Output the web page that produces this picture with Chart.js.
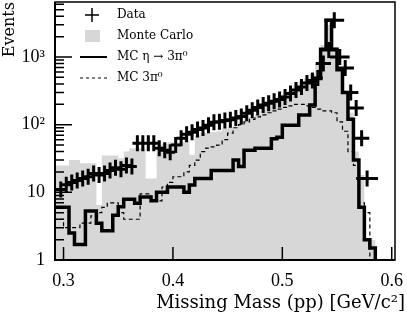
<!DOCTYPE html>
<html>
<head>
<meta charset="utf-8">
<script src="https://cdn.jsdelivr.net/npm/chart.js@4.4.1/dist/chart.umd.min.js"></script>
<style>
  html, body { margin: 0; padding: 0; background: #fff; }
  #wrap { width: 407px; height: 317px; }
</style>
</head>
<body>
<div id="wrap"><canvas id="chart" width="407" height="317"></canvas></div>
<script>
// bin edges of the missing mass histograms (GeV/c^2)
const binEdges = [
  0.290, 0.295, 0.300, 0.305, 0.310, 0.315, 0.320, 0.325, 0.330, 0.335,
  0.340, 0.345, 0.350, 0.355, 0.360, 0.365, 0.370, 0.375, 0.380, 0.385,
  0.390, 0.395, 0.400, 0.405, 0.410, 0.415, 0.420, 0.425, 0.430, 0.435,
  0.440, 0.445, 0.450, 0.455, 0.460, 0.465, 0.470, 0.475, 0.480, 0.485,
  0.490, 0.495, 0.500, 0.505, 0.510, 0.515, 0.520, 0.525, 0.530, 0.535,
  0.540, 0.545, 0.550, 0.555, 0.560, 0.565, 0.570, 0.575, 0.580, 0.585,
  0.590, 0.595, 0.600
];

// Monte Carlo total (grey)
const mcTotal = [
  25, 25, 25, 25, 30, 30, 27, 27, 27, 6.5,
  35, 35, 35, 32, 40, 45, 45, 45, 16, 16,
  50, 52, 55, 55, 55, 58, 36, 70, 75, 75,
  78, 80, 88, 92, 95, 110, 125, 130, 140, 180,
  210, 230, 260, 290, 320, 380, 430, 480, 560, 800,
  1500, 3000, 1400, 700, 320, 150, 40, 18, 2, 2,
  0, 0
];

// MC eta -> 3pi0 (thick solid)
const mcEta = [
  6, 6, 6, 6, 2.5, 1.7, 1.7, 5.3, 5.3, 3.5,
  2.7, 2.7, 4.6, 6.1, 7.9, 7.9, 6.9, 8.5, 8.5, 7.5,
  10, 10, 12, 12, 12, 10, 12.8, 16, 16, 16,
  21, 21, 21, 21, 30, 24, 42, 42, 45, 45,
  45, 62, 65, 98, 98, 98, 139, 139, 195, 480,
  1300, 3500, 1300, 650, 300, 120, 30, 6, 2, 1.5,
  0, 0
];

// MC direct 3pi0 (dashed)
const mc3pi = [
  4, 4, 4, 3, 3, 3, 3.5, 3.5, 4.5, 5,
  6, 7, 7, 5, 4, 4, 4, 9.5, 9.5, 7.5,
  7.5, 12, 14, 17, 17, 20, 25, 30, 40, 45,
  47, 50, 60, 75, 90, 100, 110, 120, 130, 140,
  150, 160, 170, 180, 190, 200, 200, 190, 180, 170,
  160, 160, 150, 110, 80, 40, 25, 7, 5, 0,
  0, 0
];

// data counts per bin (null = no point)
const dataCounts = [
  null, 11, 13, 14, 15, 16, 17, 19, 18, 19,
  21, 23, 22, 25, 24, 53, 53, 53, 53, 45,
  42, 39, 50, 63, 72, 77, 85, 89, 98, 109,
  110, 115, 118, 125, 132, 148, 164, 180, 195, 208,
  222, 235, 256, 290, 325, 360, 412, 450, 488, 800,
  1265, 3500, 1000, 690, 300, 176, 63, 16, null, null,
  null, null
];

// horizontal half-extent of each data cross (GeV/c^2)
const dataXErr = [
  0.0045, 0.0045, 0.0045, 0.0045, 0.0045, 0.0045, 0.0045, 0.0045, 0.0045, 0.0045,
  0.0045, 0.0045, 0.0045, 0.0045, 0.0045, 0.0045, 0.0045, 0.0045, 0.0045, 0.0045,
  0.0045, 0.0045, 0.0045, 0.0045, 0.0045, 0.0045, 0.0045, 0.0045, 0.0045, 0.0045,
  0.0045, 0.0045, 0.0045, 0.0045, 0.0045, 0.0045, 0.0045, 0.0045, 0.0045, 0.0045,
  0.0045, 0.0045, 0.0045, 0.0045, 0.0045, 0.0045, 0.0045, 0.0045, 0.0045, 0.007,
  0.007, 0.009, 0.009, 0.008, 0.007, 0.007, 0.007, 0.01, 0.0045, 0.0045,
  0.0045, 0.0045
];

const xTicks = [0.3, 0.4, 0.5, 0.6];
const yTickLabels = { 1: '1', 10: '10', 100: '10²', 1000: '10³' };
const legendLabels = ['Data', 'Monte Carlo', 'MC η → 3π⁰', 'MC 3π⁰'];
const xTitle = 'Missing Mass (pp) [GeV/c²]';
const yTitle = 'Events';

const GREY = '#d7d7d7';
const SERIF = '"Liberation Serif", "DejaVu Serif", serif';

function stepPoints(vals) {
  // zero bins go below the axis and get clipped
  const pts = vals.map((v, i) => ({ x: binEdges[i], y: v > 0 ? v : 0.3 }));
  pts.push({ x: binEdges[vals.length], y: 0.3 });
  return pts;
}

const dataPoints = [];
dataCounts.forEach((v, i) => {
  if (v == null) return;
  dataPoints.push({ x: (binEdges[i] + binEdges[i + 1]) / 2, y: v, xerr: dataXErr[i] });
});

const decor = {
  id: 'decor',
  afterDatasetsDraw(chart) {
    const { ctx, chartArea: a, scales: { x, y } } = chart;
    ctx.save();
    // data crosses
    ctx.strokeStyle = '#000';
    ctx.lineWidth = 3;
    ctx.beginPath();
    for (const p of dataPoints) {
      const px = x.getPixelForValue(p.x), py = y.getPixelForValue(p.y);
      const x0 = x.getPixelForValue(p.x - p.xerr), x1 = x.getPixelForValue(p.x + p.xerr);
      ctx.moveTo(x0, py); ctx.lineTo(x1, py);
      ctx.moveTo(px, py - 8); ctx.lineTo(px, py + 8);
    }
    ctx.stroke();

    // frame
    ctx.lineWidth = 1.5;
    ctx.strokeRect(a.left, a.top, a.right - a.left, a.bottom - a.top);
    ctx.lineWidth = 2;
    ctx.beginPath();
    ctx.moveTo(a.left, a.top); ctx.lineTo(a.left, a.bottom); ctx.lineTo(a.right, a.bottom);
    ctx.stroke();

    // inward tick marks
    ctx.lineWidth = 1.5;
    ctx.beginPath();
    for (const t of xTicks) {
      const px = x.getPixelForValue(t);
      ctx.moveTo(px, a.bottom); ctx.lineTo(px, a.bottom - 13);
    }
    for (let d = 1; d <= 1000; d *= 10) {
      for (let m = 1; m <= 9; m++) {
        const v = m * d;
        if (v > y.max) break;
        const py = y.getPixelForValue(v);
        ctx.moveTo(a.left, py); ctx.lineTo(a.left + (m === 1 ? 17 : 9), py);
      }
    }
    ctx.stroke();
    ctx.restore();
  },
  afterDraw(chart) {
    const { ctx } = chart;
    ctx.save();
    const rows = [15, 36, 57, 78];
    const mx = 92, tx = 117;
    ctx.strokeStyle = '#000';
    // Data marker
    ctx.lineWidth = 1.5;
    ctx.beginPath();
    ctx.moveTo(mx - 7, rows[0]); ctx.lineTo(mx + 7, rows[0]);
    ctx.moveTo(mx, rows[0] - 7); ctx.lineTo(mx, rows[0] + 7);
    ctx.stroke();
    // Monte Carlo box
    ctx.fillStyle = GREY;
    ctx.fillRect(mx - 7, rows[1] - 6, 15, 12);
    // solid
    ctx.lineWidth = 2;
    ctx.beginPath();
    ctx.moveTo(mx - 12, rows[2]); ctx.lineTo(mx + 15, rows[2]);
    ctx.stroke();
    // dashed
    ctx.lineWidth = 1;
    ctx.setLineDash([3, 3]);
    ctx.beginPath();
    ctx.moveTo(mx - 12, rows[3]); ctx.lineTo(mx + 15, rows[3]);
    ctx.stroke();
    ctx.setLineDash([]);

    ctx.fillStyle = '#000';
    ctx.font = '12px "DejaVu Serif"';
    ctx.textBaseline = 'middle';
    ctx.textAlign = 'left';
    legendLabels.forEach((s, i) => ctx.fillText(s, tx, rows[i]));

    // x axis title
    ctx.font = '18px "DejaVu Serif"';
    ctx.textAlign = 'right';
    ctx.fillText(xTitle, 405, 303);
    ctx.restore();
  }
};

new Chart(document.getElementById('chart'), {
  type: 'line',
  data: {
    datasets: [
      { label: legendLabels[0], data: dataPoints, showLine: false, pointRadius: 0, order: 1 },
      { label: legendLabels[2], data: stepPoints(mcEta), stepped: 'after', borderColor: '#000',
        borderWidth: 3.5, pointRadius: 0, fill: false, order: 2 },
      { label: legendLabels[3], data: stepPoints(mc3pi), stepped: 'after', borderColor: '#000',
        borderWidth: 1.2, borderDash: [4, 3], pointRadius: 0, fill: false, order: 3 },
      { label: legendLabels[1], data: stepPoints(mcTotal), stepped: 'after', borderColor: GREY,
        borderWidth: 0, backgroundColor: GREY, pointRadius: 0, fill: 'start', order: 4 }
    ]
  },
  options: {
    responsive: false,
    animation: false,
    devicePixelRatio: 1,
    layout: { padding: { top: 2, right: 12, left: 0, bottom: 0 } },
    plugins: { legend: { display: false }, tooltip: { enabled: false } },
    scales: {
      x: {
        type: 'linear', min: 0.2922, max: 0.603,
        grid: { display: false, drawTicks: false },
        border: { display: false },
        afterBuildTicks: s => { s.ticks = xTicks.map(v => ({ value: v })); },
        afterFit: s => { s.height = 57; s.paddingLeft = 0; s.paddingRight = 0; },
        ticks: { padding: 10, color: '#000', font: { family: SERIF, size: 18 },
                 maxRotation: 0, autoSkip: false, callback: v => v.toFixed(1) }
      },
      y: {
        type: 'logarithmic', min: 1, max: 6500,
        grid: { display: false, drawTicks: false },
        border: { display: false },
        afterFit: s => { s.width = 55; s.paddingTop = 0; s.paddingBottom = 0; },
        title: { display: true, text: yTitle, align: 'end', color: '#000',
                 font: { family: '"DejaVu Serif"', size: 16 }, padding: 0 },
        ticks: { padding: 10, color: '#000', font: { family: SERIF, size: 18 },
                 autoSkip: false, callback: v => yTickLabels[v] ?? '' }
      }
    }
  },
  plugins: [decor]
});
</script>
</body>
</html>
